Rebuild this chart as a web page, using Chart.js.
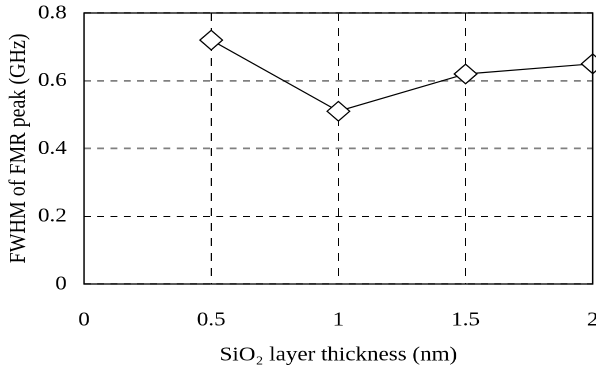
<!DOCTYPE html>
<html>
<head>
<meta charset="utf-8">
<script src="https://cdn.jsdelivr.net/npm/chart.js@4"></script>
<style>
  html, body { margin: 0; padding: 0; background: #fff; overflow: hidden; font-family: 'Liberation Serif', serif; }
  #wrap { width: 596px; height: 367px; overflow: hidden; }
  /* the source picture is stretched ~1.15x horizontally */
  #fwhmChart { width: 609.5px !important; height: 367px !important; display: block; }
</style>
</head>
<body>
<div id="wrap"><canvas id="fwhmChart" width="530" height="367"></canvas></div>
<script>
const thickness = [0.5, 1, 1.5, 2];
const fwhm = [0.72, 0.51, 0.62, 0.65];
const xTicks = [0, 0.5, 1, 1.5, 2];
const yTicks = [0, 0.2, 0.4, 0.6, 0.8];
const xTitle = 'SiO\u2082 layer thickness (nm)';
const yTitle = 'FWHM of FMR peak (GHz)';

const FONT = "'Liberation Serif', 'Times New Roman', serif";

// frame around the plot area
const frame = {
    id: 'frame',
    afterDatasetsDraw(chart) {
        const a = chart.chartArea, ctx = chart.ctx;
        ctx.save();
        ctx.strokeStyle = '#000';
        ctx.lineWidth = 1.3;
        ctx.strokeRect(a.left, a.top, a.right - a.left, a.bottom - a.top);
        ctx.restore();
    }
};

function draw() {
    new Chart(document.getElementById('fwhmChart').getContext('2d'), {
        type: 'line',
        data: {
            datasets: [{
                data: thickness.map((x, i) => ({ x: x, y: fwhm[i] })),
                borderColor: '#000',
                borderWidth: 1.2,
                pointStyle: 'rectRot',
                pointRadius: 9.8,
                pointBackgroundColor: '#fff',
                pointBorderColor: '#000',
                pointBorderWidth: 1.2,
                tension: 0,
                clip: false
            }]
        },
        options: {
            responsive: false,
            animation: false,
            devicePixelRatio: 2,
            events: [],
            layout: { padding: { left: 0, right: 15, top: 13, bottom: 0 } },
            plugins: { legend: { display: false }, tooltip: { enabled: false } },
            scales: {
                x: {
                    type: 'linear',
                    min: 0, max: 2,
                    afterBuildTicks: s => { s.ticks = xTicks.map(v => ({ value: v })); },
                    afterFit: s => { s.height = 83; s.paddingLeft = 0; s.paddingRight = 0; },
                    ticks: {
                        color: '#000', padding: 24,
                        font: { family: FONT, size: 20 },
                        maxRotation: 0, autoSkip: false,
                        callback: v => String(v)
                    },
                    grid: { color: '#000', lineWidth: 1, drawTicks: false },
                    border: { display: false, dash: [8, 7] },
                    title: {
                        display: true, text: xTitle, color: '#000',
                        font: { family: FONT, size: 20 },
                        padding: { top: 0, bottom: 0 }
                    }
                },
                y: {
                    min: 0, max: 0.8,
                    afterBuildTicks: s => { s.ticks = yTicks.map(v => ({ value: v })); },
                    afterFit: s => { s.width = 73; s.paddingTop = 0; s.paddingBottom = 0; },
                    ticks: {
                        color: '#000', padding: 15,
                        font: { family: FONT, size: 20 },
                        callback: v => String(v)
                    },
                    grid: {
                        color: c => c.tick && c.tick.value === 0.2 ? '#000' : '#808080',
                        lineWidth: c => c.tick && c.tick.value === 0.2 ? 1 : 1.8,
                        drawTicks: false
                    },
                    border: { display: false, dash: [6, 5.5] },
                    title: {
                        display: true, text: yTitle, color: '#000',
                        font: { family: FONT, size: 20 },
                        padding: { top: 4, bottom: 0 }
                    }
                }
            }
        },
        plugins: [frame]
    });
}

document.fonts.load("20px 'Liberation Serif'").then(draw, draw);
</script>
</body>
</html>
